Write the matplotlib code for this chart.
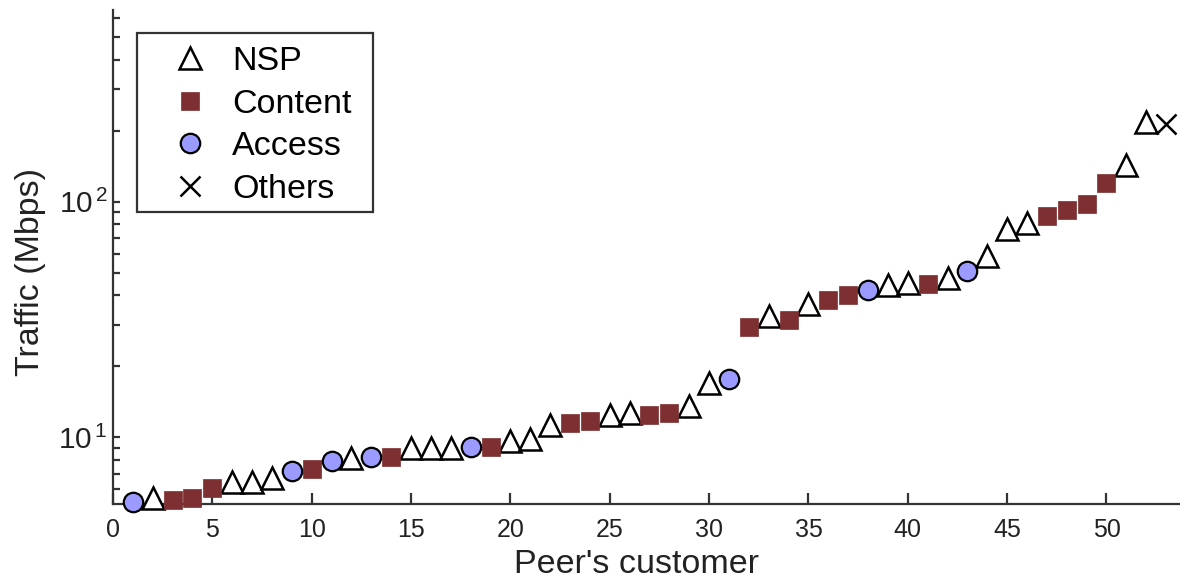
import matplotlib
matplotlib.use("Agg")
import numpy as np
import matplotlib.pyplot as plt
from matplotlib.ticker import LogLocator, FixedLocator, FuncFormatter, NullFormatter
from matplotlib.patches import Rectangle

plt.rcParams['font.family'] = ['Liberation Sans', 'DejaVu Sans']
plt.rcParams['mathtext.fontset'] = 'custom'
plt.rcParams['mathtext.rm'] = 'Liberation Sans'
plt.rcParams['mathtext.it'] = 'Liberation Sans'
plt.rcParams['mathtext.default'] = 'regular'

# ---- data ----
nsp_x = [2, 6, 7, 8, 12, 15, 16, 17, 20, 21, 22, 25, 26, 29, 30, 33, 35, 39, 40, 42, 44, 45, 46, 51, 52]
nsp_y = [5.49, 6.47, 6.47, 6.72, 8.15, 8.96, 8.96, 8.96, 9.64, 9.83, 11.27, 12.43, 12.67, 13.6, 16.9,
         32.7, 36.9, 44.4, 45.2, 47.5, 58.6, 76.2, 81.3, 142.8, 217.7]
content_x = [3, 4, 5, 10, 14, 19, 23, 24, 27, 28, 32, 34, 36, 37, 41, 47, 48, 49, 50]
content_y = [5.39, 5.53, 6.06, 7.33, 8.26, 9.07, 11.46, 11.75, 12.36, 12.6, 29.4, 31.5, 38.1, 40.0,
             44.8, 86.9, 92.4, 97.4, 119.7]
access_x = [1, 9, 11, 13, 18, 31, 38, 43]
access_y = [5.30, 7.2, 7.91, 8.26, 9.10, 17.6, 42.0, 50.7]
others_x = [53]
others_y = [213.0]

labels = ["NSP", "Content", "Access", "Others"]
xlabel = "Peer's customer"
ylabel = "Traffic (Mbps)"
xticks = [0, 5, 10, 15, 20, 25, 30, 35, 40, 45, 50]

W, H = 1180, 584
fig = plt.figure(figsize=(W / 100, H / 100), dpi=100)
ax = fig.add_axes([113 / W, 1 - 504 / H, (W - 113) / W, (504 - 10) / H])

ax.plot(nsp_x, nsp_y, linestyle='none', marker='^', ms=15.5, mfc='white', mec='black', mew=1.8,
        label=labels[0], clip_on=False, zorder=3)
ax.plot(content_x, content_y, linestyle='none', marker='s', ms=12.5, mfc='#7d2f31', mec='#7d2f31', mew=0.5,
        label=labels[1], clip_on=False, zorder=3)
ax.plot(access_x, access_y, linestyle='none', marker='o', ms=14, mfc='#9a9aff', mec='black', mew=1.6,
        label=labels[2], clip_on=False, zorder=3)
ax.plot(others_x, others_y, linestyle='none', marker='x', ms=14, mec='black', mew=1.8,
        label=labels[3], clip_on=False, zorder=3)

ax.set_yscale('log')
ax.set_xlim(0, 53.7)
ax.set_ylim(5.2, 651)
ax.xaxis.set_major_locator(FixedLocator(xticks))
ax.yaxis.set_major_locator(LogLocator(base=10, numticks=10))
ax.yaxis.set_minor_locator(LogLocator(base=10, subs=range(2, 10), numticks=10))
ax.yaxis.set_major_formatter(FuncFormatter(lambda v, p: r'$10^{\,%d}$' % int(round(np.log10(v)))))
ax.yaxis.set_minor_formatter(NullFormatter())

for s in ['top', 'right']:
    ax.spines[s].set_visible(False)
for s in ['left', 'bottom']:
    ax.spines[s].set_linewidth(1.6)
    ax.spines[s].set_color('#333333')

ax.tick_params(axis='x', which='major', direction='in', length=8, width=1.6, color='#333333',
               labelsize=18, pad=10, labelcolor='#222222')
ax.tick_params(axis='y', which='major', direction='in', length=5, width=1.6, color='#333333',
               labelsize=21.5, pad=4, labelcolor='#222222')
ax.tick_params(axis='y', which='minor', direction='in', length=5, width=1.6, color='#333333')

ax.set_xlabel(xlabel, fontsize=24.5, color='#222222')
ax.xaxis.set_label_coords((636 - 113) / (W - 113), -0.091)
ax.set_ylabel(ylabel, fontsize=24.5, color='#222222')
ax.yaxis.set_label_coords(-0.0626, (504 - 272) / 494)

# legend frame (drawn separately) and entries
frame = Rectangle((137 / W, 1 - 212 / H), (373 - 137) / W, (212 - 33) / H, transform=fig.transFigure,
                  fill=False, edgecolor='#333333', linewidth=1.6, zorder=5)
fig.patches.append(frame)
leg = ax.legend(loc='upper left', bbox_to_anchor=(163 / W, 1 - 46 / H), bbox_transform=fig.transFigure,
                borderaxespad=0, borderpad=0, fontsize=24.5, frameon=False,
                handlelength=1.6, handletextpad=0.43, labelspacing=0.34, numpoints=1)

fig.savefig('out.png', dpi=100)
